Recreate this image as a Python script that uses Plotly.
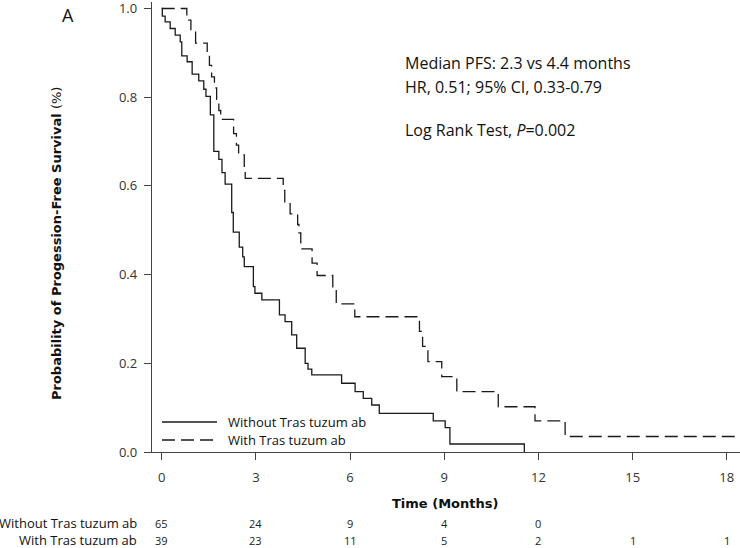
import plotly.graph_objects as go

# ---- data ----
without_t = [0, 0.02, 0.11, 0.27, 0.43, 0.59, 0.64, 0.81, 0.97, 1.18,
             1.34, 1.41, 1.55, 1.66, 1.82, 1.92, 2.02, 2.23, 2.28, 2.47,
             2.58, 2.63, 2.92, 2.97, 3.19, 3.75, 3.93, 4.14, 4.30, 4.57,
             4.66, 4.78, 5.73, 6.16, 6.42, 6.69, 6.93, 8.65, 9.03, 9.18,
             11.55]
without_s = [1.0, 0.983, 0.970, 0.955, 0.940, 0.925, 0.893, 0.880, 0.852, 0.837,
             0.818, 0.802, 0.760, 0.678, 0.660, 0.630, 0.604, 0.540, 0.496, 0.462,
             0.440, 0.418, 0.373, 0.358, 0.343, 0.309, 0.294, 0.264, 0.234, 0.200,
             0.187, 0.174, 0.155, 0.136, 0.121, 0.106, 0.087, 0.070, 0.055, 0.018,
             0.0]

with_t = [0, 0.80, 0.93, 1.08, 1.45, 1.52, 1.59, 1.68, 1.75, 1.82,
          1.88, 2.29, 2.38, 2.45, 2.63, 2.66, 3.87, 3.92, 4.09, 4.33,
          4.37, 4.43, 4.79, 4.95, 5.45, 5.56, 6.15, 8.21, 8.31, 8.48,
          8.92, 9.40, 10.72, 11.89, 12.85, 18.42]
with_s = [1.0, 0.974, 0.949, 0.922, 0.897, 0.872, 0.846, 0.821, 0.795, 0.770,
          0.750, 0.718, 0.692, 0.670, 0.641, 0.617, 0.590, 0.562, 0.537, 0.513,
          0.494, 0.458, 0.426, 0.398, 0.366, 0.334, 0.305, 0.272, 0.238, 0.204,
          0.170, 0.136, 0.102, 0.070, 0.035, 0.035]

series_names = ["Without Tras tuzum ab", "With Tras tuzum ab"]
x_ticks = [0, 3, 6, 9, 12, 15, 18]
y_ticks = [0.0, 0.2, 0.4, 0.6, 0.8, 1.0]
risk_times_without = [0, 3, 6, 9, 12]
risk_without = [65, 24, 9, 4, 0]
risk_times_with = [0, 3, 6, 9, 12, 15, 18]
risk_with = [39, 23, 11, 5, 2, 1, 1]
stats_lines = ["Median PFS: 2.3 vs 4.4 months",
               "HR, 0.51; 95% CI, 0.33-0.79",
               "Log Rank Test, <i>P</i>=0.002"]

# ---- figure ----
W, H = 740, 548
ML, MR, MT, MB = 152, 0, 2, 96
PW, PH = W - ML - MR, H - MT - MB

def px(xp):
    return (xp - ML) / PW

def py(yp):
    return (H - MB - yp) / PH

LINE_COL = "#1a1a1a"
DASH = "13px,6px"

fig = go.Figure()
fig.add_trace(go.Scatter(x=without_t, y=without_s, mode="lines", line_shape="hv",
                         line=dict(color=LINE_COL, width=1.3), name=series_names[0],
                         showlegend=False))
fig.add_trace(go.Scatter(x=with_t, y=with_s, mode="lines", line_shape="hv",
                         line=dict(color=LINE_COL, width=1.3, dash=DASH), name=series_names[1],
                         showlegend=False))

TICKFONT = dict(family="Open Sans", size=13, color="#333333")
AXCOL = "#444444"

fig.update_xaxes(range=[-0.309, 18.42], tickvals=x_ticks, ticktext=[str(v) for v in x_ticks],
                 showline=True, linecolor=AXCOL, linewidth=1.4, ticks="outside", ticklen=7,
                 tickcolor=AXCOL, tickwidth=1.2, showgrid=False, zeroline=False,
                 tickfont=TICKFONT, fixedrange=True, ticklabeloverflow="allow",
                 ticklabelstandoff=6)
fig.update_yaxes(range=[0, 1.0147], tickvals=y_ticks, ticktext=[f"{v:.1f}" for v in y_ticks],
                 showline=True, linecolor=AXCOL, linewidth=1.4, ticks="outside", ticklen=7,
                 tickcolor=AXCOL, tickwidth=1.2, showgrid=False, zeroline=False,
                 tickfont=TICKFONT, fixedrange=True, ticklabeloverflow="allow",
                 ticklabelstandoff=4)

ann = []
# panel label
ann.append(dict(text="A", x=px(68), y=py(15), xref="paper", yref="paper",
                showarrow=False, xanchor="center", yanchor="middle",
                font=dict(family="Open Sans", size=18, color="#111111")))
# stats text
for txt, yc in zip(stats_lines, [63, 87, 130]):
    ann.append(dict(text=txt, x=px(403), y=py(yc), xref="paper", yref="paper",
                    showarrow=False, xanchor="left", yanchor="middle",
                    font=dict(family="Open Sans", size=16, color="#111111")))
# axis titles
ann.append(dict(text="<b>Probability of Progession-Free Survival</b> (%)", textangle=-90,
                x=px(56), y=py(244), xref="paper", yref="paper", showarrow=False,
                xanchor="center", yanchor="middle",
                font=dict(family="DejaVu Sans", size=13, color="#111111")))
ann.append(dict(text="<b>Time (Months)</b>", x=px(445), y=py(503), xref="paper", yref="paper",
                showarrow=False, xanchor="center", yanchor="middle",
                font=dict(family="DejaVu Sans", size=13, color="#111111")))
# legend texts
for name, yc in zip(series_names, [422, 440]):
    ann.append(dict(text=name, x=px(226), y=py(yc), xref="paper", yref="paper",
                    showarrow=False, xanchor="left", yanchor="middle",
                    font=dict(family="Open Sans", size=13, color="#111111")))
# risk table
for name, yc, times, vals in [(series_names[0], 523, risk_times_without, risk_without),
                              (series_names[1], 540, risk_times_with, risk_with)]:
    ann.append(dict(text=name, x=px(139), y=py(yc), xref="paper", yref="paper",
                    showarrow=False, xanchor="right", yanchor="middle",
                    font=dict(family="Open Sans", size=13, color="#111111")))
    for t, v in zip(times, vals):
        ann.append(dict(text=str(v), x=t, y=py(yc), xref="x", yref="paper",
                        showarrow=False, xanchor="center", yanchor="middle",
                        font=dict(family="Open Sans", size=11, color="#222222")))

shapes = [
    dict(type="line", xref="paper", yref="paper", x0=px(162), x1=px(217), y0=py(422), y1=py(422),
         line=dict(color=LINE_COL, width=1.3)),
    dict(type="line", xref="paper", yref="paper", x0=px(162), x1=px(217), y0=py(440), y1=py(440),
         line=dict(color=LINE_COL, width=1.3, dash=DASH)),
]

fig.update_layout(width=W, height=H, margin=dict(l=ML, r=MR, t=MT, b=MB, autoexpand=False),
                  paper_bgcolor="white", plot_bgcolor="white", showlegend=False,
                  annotations=ann, shapes=shapes)

fig.write_html("out.html", config={"displayModeBar": False},
               post_script="document.body.style.margin='0';document.body.style.overflow='hidden';")
